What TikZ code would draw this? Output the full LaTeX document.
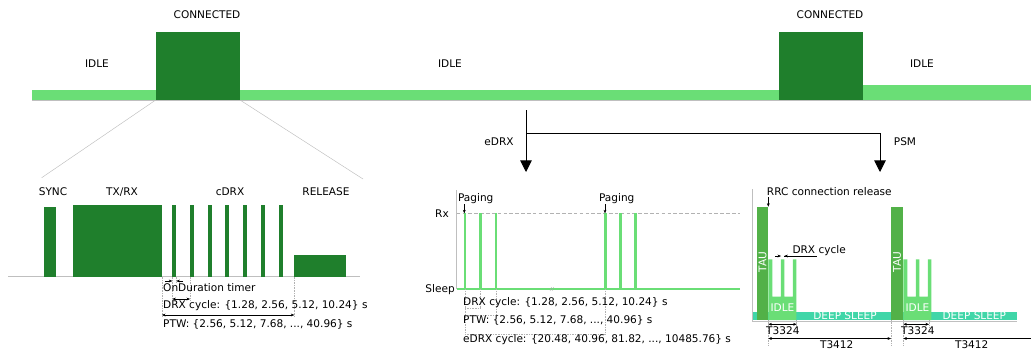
\documentclass[tikz,border=0pt]{standalone}
\usepackage{fontspec}
\setmainfont{DejaVu Sans}
\usetikzlibrary{positioning,arrows.meta}
\definecolor{conngreen}{RGB}{31,127,44}
\definecolor{idlegreen}{RGB}{106,222,118}
\definecolor{taugreen}{RGB}{82,177,72}
\definecolor{deepteal}{RGB}{64,214,168}
\tikzset{
	lbl/.style={inner sep=0pt,font=\fontsize{9}{10}\selectfont},
	whitelbl/.style={lbl,text=white},
	dimline/.style={{Stealth[length=3pt,width=2.4pt]}-{Stealth[length=3pt,width=2.4pt]},line width=0.3pt},
	halfdim/.style={-{Stealth[length=3pt,width=2.4pt]},line width=0.3pt},
	guide/.style={gray!60,densely dotted,line width=0.4pt},
	axisline/.style={gray!50,line width=0.5pt},
	branch/.style={line width=0.8pt,-{Triangle[length=10pt,width=10pt]}}
}
\newcommand{\pulse}[4]
{\fill[#4] (#1,#2) rectangle ++(#3,276.7-#2);
}
\newcommand{\idleblock}[1]
{\fill[idlegreen] (#1,320) -- ++(0,-60.7) -- ++(4,0) -- ++(0,37.4) -- ++(8.5,0) -- ++(0,-37.4)
	-- ++(3.5,0) -- ++(0,37.4) -- ++(8.5,0) -- ++(0,-37.4) -- ++(3.5,0) -- ++(0,60.7) -- cycle;
}
\begin{document}
\begin{tikzpicture}[x=0.03cm,y=-0.03cm,>=latex]
\useasboundingbox (0,0) rectangle (1031,353);

% state bar
\begin{scope}
	\fill[idlegreen] (32,90) rectangle (1031,100);
	\fill[idlegreen] (863,85) rectangle (1031,100);
	\draw[axisline] (32,100) -- (1031,100);
	\fill[conngreen] (155.7,32) coordinate (c1nw) rectangle (240,100) coordinate (c1se);
	\coordinate (c1sw) at (155.7,100);
	\fill[conngreen] (779,32) rectangle (863.3,100);
	\node[lbl] (conn1) at (207,15) {CONNECTED};
	\node[lbl] (conn2) at (830,15) {CONNECTED};
	\node[lbl] (idle1) at (97,64) {IDLE};
	\node[lbl] (idle2) at (450,64) {IDLE};
	\node[lbl] (idle3) at (922,64) {IDLE};
\end{scope}

% zoom on the connected state
\coordinate (zoomleft) at (41.7,177.7);
\coordinate (zoomright) at (363,179);
\draw[gray!50,line width=0.4pt] (c1sw) -- (zoomleft);
\draw[gray!50,line width=0.4pt] (c1se) -- (zoomright);

\begin{scope}
	\draw[axisline] (8,276.7) -- (360,276.7);
	\node[lbl] (sync) at (53,192) {SYNC};
	\node[lbl] (txrx) at (122,192) {TX/RX};
	\node[lbl] (cdrx) at (230,192) {cDRX};
	\node[lbl] (release) at (326,192) {RELEASE};
	\pulse{44}{207}{11.7}{conngreen};
	\pulse{73.3}{205}{88.7}{conngreen};
	\foreach \i in {0,...,6}
		{\pulse{172.3+17.7*\i}{205}{4}{conngreen};
			};
	\pulse{294.3}{255}{51.7}{conngreen};
	\draw[guide] (162,276.7) -- (162,317);
	\draw[guide] (172.3,276.7) -- (172.3,301);
	\draw[guide] (176.3,276.7) -- (176.3,283);
	\draw[guide] (190,276.7) -- (190,301);
	\draw[guide] (294.3,276.7) -- (294.3,317);
	\draw[halfdim] (165,281) -- (172.3,281);
	\draw[halfdim] (183,281) -- (176.3,281);
	\draw[dimline] (172.3,299) -- (190,299);
	\draw[dimline] (162,315) -- (294.3,315);
	\node[lbl,anchor=west] (ondur) at (163,288) {OnDuration timer};
	\node[lbl,anchor=west] (cdrxcycle) at (163,306) {DRX cycle: \{1.28, 2.56, 5.12, 10.24\} s};
	\node[lbl,anchor=west] (cptw) at (163,324) {PTW: \{2.56, 5.12, 7.68, ..., 40.96\} s};
\end{scope}

% branches
\coordinate (stem) at (526,110);
\coordinate (split) at (526,133.3);
\coordinate (edrxtip) at (526,172);
\coordinate (psmtip) at (880,172);
\draw[branch] (stem) -- (edrxtip);
\draw[branch] (split) -| (psmtip);
\node[lbl] (edrx) at (499,141.7) {eDRX};
\node[lbl] (psm) at (905,141.7) {PSM};

% eDRX
\begin{scope}
	\draw[axisline] (456.7,190) -- (456.7,289.3);
	\draw[gray!60,densely dashed,line width=0.4pt] (456.7,213.3) -- (740,213.3);
	\draw[idlegreen,line width=1.5pt] (456.7,289.3) -- (740,289.3);
	\foreach \x in {465,480.7,496,605.7,620.3,635.3}
		{\fill[idlegreen] (\x-1.3,213.3) rectangle (\x+1.3,289.3);
			};
	\draw[gray!70,line width=0.3pt] (550,291) -- (551.5,287) (552,291) -- (553.5,287);
	\node[lbl,anchor=east] (rx) at (449,213.3) {Rx};
	\node[lbl,anchor=east] (sleep) at (455,289.3) {Sleep};
	\node[lbl] (paging1) at (475.7,198.3) {Paging};
	\node[lbl] (paging2) at (616.7,198.3) {Paging};
	\draw[halfdim] (464.3,204) -- (464.3,213.3);
	\draw[halfdim] (605,204) -- (605,213.3);
	\draw[guide] (465,289.3) -- (465,335);
	\draw[guide] (480.7,289.3) -- (480.7,308);
	\draw[guide] (496,289.3) -- (496,315);
	\draw[guide] (605.7,289.3) -- (605.7,335);
	\draw[guide] (465,308) -- (480.7,308);
	\draw[guide] (465,315) -- (496,315);
	\draw[guide] (465,334) -- (605.7,334);
	\node[lbl,anchor=west] (edrxcycle) at (463,302.3) {DRX cycle: \{1.28, 2.56, 5.12, 10.24\} s};
	\node[lbl,anchor=west] (eptw) at (463,320.7) {PTW: \{2.56, 5.12, 7.68, ..., 40.96\} s};
	\node[lbl,anchor=west] (ecycle) at (463,339.3) {eDRX cycle: \{20.48, 40.96, 81.82, ..., 10485.76\} s};
\end{scope}

% PSM
\begin{scope}
	\fill[deepteal] (752.3,311.7) rectangle (1016.7,320);
	\draw[axisline] (752.3,189) -- (752.3,321) -- (1016.7,321);
	\fill[taugreen] (756.7,206.7) rectangle (768.3,320);
	\fill[taugreen] (891,206.7) rectangle (903.3,320);
	\idleblock{768.3};
	\idleblock{903.3};
	\node[whitelbl,rotate=90] (tau1) at (762.5,262) {TAU};
	\node[whitelbl,rotate=90] (tau2) at (897.2,262) {TAU};
	\node[whitelbl] (pidle1) at (782.5,307.7) {IDLE};
	\node[whitelbl] (pidle2) at (917.5,307.7) {IDLE};
	\node[whitelbl] (deep1) at (845,316) {DEEP SLEEP};
	\node[whitelbl] (deep2) at (974.3,316) {DEEP SLEEP};
	\node[lbl,anchor=west] (rrc) at (766.7,191.7) {RRC connection release};
	\draw[halfdim] (768.3,197) -- (768.3,206.7);
	\node[lbl,anchor=west] (pdrx) at (792.3,251) {DRX cycle};
	\draw[halfdim] (775,256) -- (781,256);
	\draw[halfdim] (790,256) -- (784.3,256);
	\draw[line width=0.3pt] (784.3,256) -- (817,256);
	\draw[guide] (768.3,320) -- (768.3,345);
	\draw[guide] (796.7,320) -- (796.7,327);
	\draw[guide] (891,320) -- (891,345);
	\draw[guide] (903.3,320) -- (903.3,345);
	\draw[guide] (929,320) -- (929,327);
	\draw[dimline] (768.3,324.3) -- (796.7,324.3);
	\draw[dimline] (903.3,324.3) -- (929,324.3);
	\draw[dimline] (768.3,338.5) -- (891,338.5);
	\draw[halfdim] (1031,338.5) -- (903.3,338.5);
	\node[lbl,anchor=west] (t3324a) at (766,330.5) {T3324};
	\node[lbl,anchor=west] (t3324b) at (901,330.5) {T3324};
	\node[lbl] (t3412a) at (836.7,344.8) {T3412};
	\node[lbl] (t3412b) at (971.7,344.8) {T3412};
\end{scope}
\end{tikzpicture}
\end{document}
